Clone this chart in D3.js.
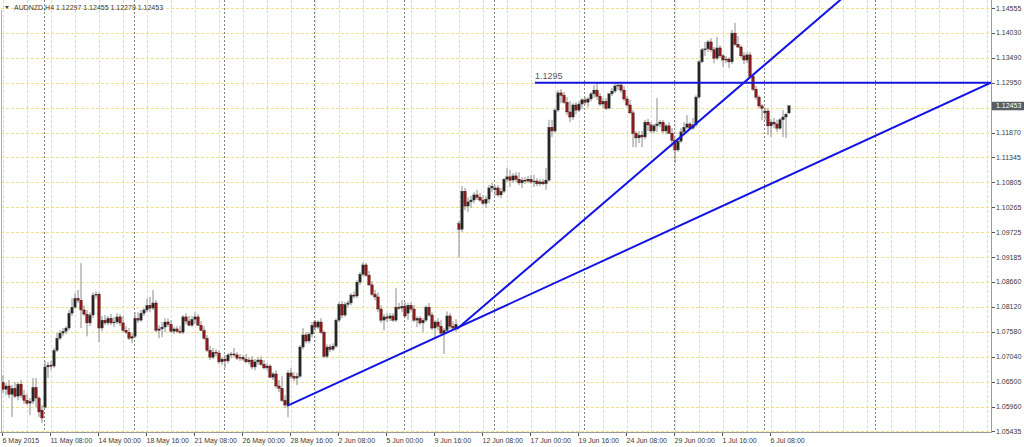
<!DOCTYPE html>
<html><head><meta charset="utf-8">
<script src="https://cdn.jsdelivr.net/npm/d3@7"></script>
<style>html,body{margin:0;padding:0;background:#fff;overflow:hidden}svg{display:block}</style>
</head><body><svg id="c" width="1024" height="447"></svg>
<script>
// ---------- DATA (AUDNZD H4, 6 May 16:00 .. 7 Jul 08:00, 2015) ----------
const symbolTitle = "AUDNZD,H4 1.12297 1.12455 1.12279 1.12453";
const opens = [
1.0649,1.0634,1.0641,1.0623,1.0636,1.0619,1.0645,1.0621,1.0610,1.0604,
1.0608,1.0638,1.0615,1.0589,1.0595,1.0682,1.0686,1.0684,1.0718,1.0744,
1.0755,1.0759,1.0766,1.0798,1.0811,1.0830,1.0826,1.0805,1.0796,1.0777,
1.0794,1.0837,1.0839,1.0766,1.0783,1.0777,1.0787,1.0777,1.0779,1.0790,
1.0777,1.0761,1.0757,1.0744,1.0748,1.0787,1.0783,1.0798,1.0805,1.0815,
1.0809,1.0820,1.0761,1.0764,1.0768,1.0779,1.0774,1.0759,1.0764,1.0759,
1.0757,1.0790,1.0781,1.0772,1.0785,1.0790,1.0772,1.0761,1.0744,1.0718,
1.0703,1.0714,1.0712,1.0693,1.0699,1.0695,1.0708,1.0710,1.0708,1.0701,
1.0703,1.0699,1.0693,1.0697,1.0682,1.0693,1.0697,1.0688,1.0680,1.0684,
1.0660,1.0667,1.0641,1.0636,1.0610,1.0600,1.0669,1.0662,1.0658,1.0662,
1.0725,1.0751,1.0738,1.0753,1.0779,1.0768,1.0779,1.0757,1.0705,1.0725,
1.0720,1.0727,1.0783,1.0817,1.0794,1.0817,1.0820,1.0837,1.0835,1.0865,
1.0882,1.0902,1.0880,1.0859,1.0839,1.0833,1.0807,1.0783,1.0790,1.0787,
1.0792,1.0783,1.0811,1.0809,1.0813,1.0798,1.0815,1.0807,1.0783,1.0787,
1.0777,1.0783,1.0811,1.0794,1.0766,1.0779,1.0770,1.0755,1.0761,1.0792,
1.0770,1.0766,1.0991,1.0979,1.1061,1.1029,1.1038,1.1042,1.1053,1.1048,
1.1042,1.1035,1.1044,1.1068,1.1064,1.1068,1.1053,1.1061,1.1087,1.1092,
1.1085,1.1094,1.1087,1.1079,1.1085,1.1083,1.1087,1.1081,1.1083,1.1077,
1.1081,1.1077,1.1085,1.1199,1.1191,1.1236,1.1273,1.1268,1.1253,1.1232,
1.1221,1.1247,1.1236,1.1249,1.1258,1.1253,1.1260,1.1271,1.1279,1.1266,
1.1249,1.1255,1.1240,1.1271,1.1277,1.1288,1.1290,1.1279,1.1260,1.1247,
1.1230,1.1186,1.1176,1.1182,1.1178,1.1210,1.1204,1.1191,1.1202,1.1206,
1.1210,1.1191,1.1202,1.1186,1.1171,1.1150,1.1169,1.1189,1.1199,1.1206,
1.1197,1.1204,1.1264,1.1340,1.1366,1.1368,1.1383,1.1366,1.1348,1.1370,
1.1353,1.1344,1.1346,1.1340,1.1402,1.1378,1.1372,1.1353,1.1344,1.1355,
1.1309,1.1281,1.1264,1.1245,1.1230,1.1234,1.1202,1.1210,1.1206,1.1197,
1.1215,1.1221,1.12297];
const highs = [
1.0664,1.0647,1.0654,1.0643,1.0649,1.0649,1.0654,1.0632,1.0625,1.0615,
1.0658,1.0658,1.0619,1.0600,1.0695,1.0693,1.0695,1.0723,1.0755,1.0761,
1.0766,1.0770,1.0805,1.0830,1.0841,1.0848,1.0906,1.0815,1.0805,1.0800,
1.0843,1.0845,1.0843,1.0792,1.0794,1.0792,1.0796,1.0790,1.0798,1.0796,
1.0792,1.0770,1.0766,1.0755,1.0800,1.0800,1.0805,1.0809,1.0830,1.0833,
1.0848,1.0826,1.0772,1.0779,1.0787,1.0787,1.0783,1.0768,1.0770,1.0770,
1.0794,1.0798,1.0792,1.0792,1.0800,1.0796,1.0781,1.0770,1.0751,1.0727,
1.0723,1.0720,1.0718,1.0703,1.0708,1.0712,1.0714,1.0723,1.0714,1.0710,
1.0708,1.0710,1.0703,1.0705,1.0699,1.0703,1.0705,1.0697,1.0690,1.0688,
1.0671,1.0675,1.0654,1.0662,1.0621,1.0675,1.0680,1.0671,1.0669,1.0729,
1.0766,1.0757,1.0757,1.0779,1.0783,1.0783,1.0787,1.0761,1.0731,1.0731,
1.0733,1.0787,1.0822,1.0824,1.0822,1.0826,1.0841,1.0845,1.0869,1.0887,
1.0908,1.0906,1.0889,1.0867,1.0848,1.0843,1.0815,1.0796,1.0798,1.0798,
1.0798,1.0852,1.0820,1.0826,1.0822,1.0820,1.0822,1.0815,1.0792,1.0792,
1.0787,1.0815,1.0820,1.0800,1.0783,1.0787,1.0783,1.0766,1.0802,1.0798,
1.0781,1.0785,1.0997,1.1072,1.1068,1.1048,1.1051,1.1059,1.1064,1.1057,
1.1053,1.1051,1.1074,1.1079,1.1074,1.1074,1.1068,1.1089,1.1111,1.1107,
1.1100,1.1102,1.1102,1.1092,1.1092,1.1094,1.1096,1.1096,1.1089,1.1087,
1.1087,1.1111,1.1215,1.1215,1.1240,1.1279,1.1281,1.1275,1.1264,1.1255,
1.1251,1.1253,1.1255,1.1262,1.1264,1.1264,1.1275,1.1290,1.1294,1.1273,
1.1262,1.1262,1.1273,1.1284,1.1294,1.1294,1.1294,1.1288,1.1266,1.1258,
1.1236,1.1191,1.1191,1.1191,1.1215,1.1217,1.1210,1.1206,1.1262,1.1215,
1.1215,1.1206,1.1210,1.1197,1.1176,1.1176,1.1197,1.1210,1.1225,1.1210,
1.1219,1.1268,1.1344,1.1370,1.1383,1.1387,1.1391,1.1372,1.1394,1.1376,
1.1357,1.1353,1.1350,1.1409,1.1424,1.1396,1.1376,1.1361,1.1361,1.1361,
1.1314,1.1288,1.1268,1.1249,1.1242,1.1240,1.1217,1.1219,1.1215,1.1219,
1.1236,1.1230,1.12455];
const lows = [
1.0625,1.0621,1.0615,1.0574,1.0615,1.0610,1.0615,1.0602,1.0600,1.0578,
1.0602,1.0595,1.0574,1.0561,1.0593,1.0658,1.0675,1.0680,1.0714,1.0740,
1.0748,1.0753,1.0761,1.0792,1.0807,1.0820,1.0766,1.0792,1.0748,1.0770,
1.0787,1.0830,1.0736,1.0759,1.0772,1.0772,1.0772,1.0768,1.0774,1.0770,
1.0757,1.0753,1.0740,1.0733,1.0744,1.0777,1.0779,1.0792,1.0800,1.0800,
1.0805,1.0757,1.0744,1.0746,1.0757,1.0768,1.0755,1.0753,1.0755,1.0753,
1.0753,1.0774,1.0770,1.0768,1.0774,1.0770,1.0759,1.0740,1.0714,1.0697,
1.0699,1.0705,1.0688,1.0686,1.0680,1.0690,1.0701,1.0703,1.0697,1.0695,
1.0695,1.0690,1.0688,1.0677,1.0675,1.0686,1.0684,1.0677,1.0675,1.0658,
1.0654,1.0636,1.0628,1.0606,1.0593,1.0574,1.0656,1.0651,1.0643,1.0658,
1.0720,1.0733,1.0733,1.0746,1.0761,1.0764,1.0753,1.0701,1.0701,1.0714,
1.0716,1.0723,1.0779,1.0787,1.0790,1.0811,1.0815,1.0830,1.0830,1.0859,
1.0878,1.0876,1.0856,1.0835,1.0826,1.0800,1.0777,1.0761,1.0779,1.0781,
1.0779,1.0779,1.0805,1.0800,1.0787,1.0783,1.0802,1.0779,1.0768,1.0772,
1.0757,1.0779,1.0790,1.0761,1.0744,1.0761,1.0753,1.0710,1.0755,1.0764,
1.0759,1.0757,1.0919,1.0973,1.1020,1.1016,1.1025,1.1035,1.1042,1.1038,
1.1031,1.1025,1.1035,1.1059,1.1051,1.1048,1.1046,1.1057,1.1081,1.1070,
1.1079,1.1081,1.1074,1.1068,1.1077,1.1079,1.1077,1.1070,1.1072,1.1072,
1.1074,1.1064,1.1081,1.1178,1.1186,1.1232,1.1251,1.1249,1.1225,1.1210,
1.1215,1.1227,1.1232,1.1240,1.1247,1.1242,1.1255,1.1262,1.1258,1.1245,
1.1240,1.1236,1.1238,1.1266,1.1273,1.1279,1.1273,1.1255,1.1242,1.1227,
1.1156,1.1156,1.1165,1.1156,1.1173,1.1191,1.1186,1.1186,1.1189,1.1199,
1.1186,1.1184,1.1184,1.1156,1.1122,1.1146,1.1165,1.1184,1.1195,1.1193,
1.1193,1.1199,1.1260,1.1337,1.1353,1.1361,1.1361,1.1337,1.1344,1.1348,
1.1329,1.1337,1.1327,1.1335,1.1374,1.1370,1.1348,1.1335,1.1337,1.1305,
1.1277,1.1258,1.1240,1.1215,1.1215,1.1182,1.1178,1.1197,1.1189,1.1193,
1.1178,1.1176,1.12279];
const closes = [
1.0634,1.0641,1.0623,1.0636,1.0619,1.0645,1.0621,1.0610,1.0604,1.0608,
1.0638,1.0615,1.0585,1.0572,1.0682,1.0686,1.0684,1.0718,1.0744,1.0755,
1.0759,1.0766,1.0798,1.0811,1.0830,1.0826,1.0805,1.0796,1.0777,1.0794,
1.0837,1.0839,1.0766,1.0783,1.0777,1.0787,1.0777,1.0779,1.0790,1.0777,
1.0761,1.0757,1.0744,1.0748,1.0787,1.0783,1.0798,1.0805,1.0815,1.0809,
1.0820,1.0761,1.0764,1.0768,1.0779,1.0774,1.0759,1.0764,1.0759,1.0757,
1.0790,1.0781,1.0772,1.0785,1.0790,1.0772,1.0761,1.0744,1.0718,1.0703,
1.0714,1.0712,1.0693,1.0699,1.0695,1.0708,1.0710,1.0708,1.0701,1.0703,
1.0699,1.0693,1.0697,1.0682,1.0693,1.0697,1.0688,1.0680,1.0684,1.0660,
1.0667,1.0641,1.0636,1.0610,1.0600,1.0669,1.0662,1.0658,1.0662,1.0725,
1.0751,1.0738,1.0753,1.0772,1.0768,1.0779,1.0757,1.0705,1.0725,1.0720,
1.0727,1.0783,1.0817,1.0794,1.0817,1.0820,1.0837,1.0835,1.0865,1.0882,
1.0902,1.0880,1.0859,1.0839,1.0833,1.0807,1.0783,1.0790,1.0787,1.0792,
1.0783,1.0811,1.0809,1.0813,1.0792,1.0815,1.0807,1.0783,1.0787,1.0777,
1.0783,1.0811,1.0794,1.0766,1.0779,1.0770,1.0755,1.0761,1.0792,1.0770,
1.0766,1.0774,1.0979,1.1061,1.1029,1.1038,1.1042,1.1053,1.1048,1.1042,
1.1035,1.1044,1.1068,1.1072,1.1068,1.1053,1.1061,1.1087,1.1092,1.1085,
1.1094,1.1087,1.1079,1.1085,1.1083,1.1087,1.1081,1.1083,1.1077,1.1081,
1.1077,1.1085,1.1199,1.1191,1.1236,1.1273,1.1268,1.1253,1.1232,1.1221,
1.1247,1.1236,1.1249,1.1258,1.1253,1.1260,1.1271,1.1279,1.1266,1.1249,
1.1255,1.1240,1.1271,1.1277,1.1288,1.1290,1.1279,1.1260,1.1247,1.1230,
1.1186,1.1176,1.1182,1.1178,1.1210,1.1204,1.1191,1.1202,1.1206,1.1210,
1.1191,1.1202,1.1186,1.1171,1.1150,1.1169,1.1189,1.1199,1.1206,1.1197,
1.1204,1.1264,1.1340,1.1366,1.1368,1.1383,1.1366,1.1348,1.1370,1.1353,
1.1344,1.1346,1.1340,1.1402,1.1378,1.1372,1.1353,1.1344,1.1355,1.1309,
1.1281,1.1264,1.1245,1.1240,1.1234,1.1202,1.1210,1.1206,1.1197,1.1215,
1.1221,1.1227,1.12453];

// x axis: bar index of each time label
const timeTickIndex  = [0,16,32,48,64,80,96,112,128,144,160,176,192,208,224,240,256];
const timeTickLabels = ["6 May 2015","11 May 08:00","14 May 00:00","18 May 16:00","21 May 08:00",
  "26 May 00:00","28 May 16:00","2 Jun 08:00","5 Jun 00:00","9 Jun 16:00","12 Jun 08:00",
  "17 Jun 00:00","19 Jun 16:00","24 Jun 08:00","29 Jun 00:00","1 Jul 16:00","6 Jul 08:00"];
// weekly period separators (bar index of Monday open)
const separatorIndex = [14,44,74,104,134,164,194,224,254,291];
// price scale labels
const priceTicks = [1.14555,1.14030,1.13490,1.12950,1.12410,1.11870,1.11345,1.10805,1.10265,
  1.09725,1.09185,1.08660,1.08120,1.07580,1.07040,1.06500,1.05960,1.05435];
const priceTickLabels = ["1.14555","1.14030","1.13490","1.12950","1.12410","1.11870","1.11345","1.10805","1.10265",
  "1.09725","1.09185","1.08660","1.08120","1.07580","1.07040","1.06500","1.05960","1.05435"];
const lastPrice = 1.12453, lastPriceLabel = "1.12453";
// drawn objects
const levelPrice = 1.1295, levelFromIndex = 177.3, levelLabel = "1.1295";
const trendShallow = [[94.7, 1.0598], [329.3, 1.1295]];
const trendSteep   = [[151.3, 1.0764], [279.0, 1.1473]];

// ---------- CHART ----------
const W = 1024, H = 447;
const P = {left: 1, right: 991, top: 0, bottom: 432};
const FONT = '"Liberation Sans", Arial, sans-serif';
const svg = d3.select('#c');

const x = d3.scaleLinear().domain([0, 328]).range([3, 987]);
const y = d3.scaleLinear().domain([1.05435, 1.14555]).range([431.2, 8.3]);
const nBars = closes.length;
const bars = d3.range(nBars).map(i => ({i, o: opens[i], h: highs[i], l: lows[i], c: closes[i]}));

svg.append('rect').attr('width', W).attr('height', H).attr('fill', '#fff');
svg.append('defs').append('clipPath').attr('id', 'clip')
  .append('rect').attr('x', P.left).attr('y', P.top).attr('width', P.right - P.left).attr('height', P.bottom - P.top);

const plot = svg.append('g').attr('clip-path', 'url(#clip)');

// grid
const gridColor = '#efe08a';
const vGrid = d3.range(0, 330, 8);
plot.append('g').selectAll('line').data(vGrid).join('line')
  .attr('x1', d => Math.round(x(d)) + 0.5).attr('x2', d => Math.round(x(d)) + 0.5)
  .attr('y1', P.top).attr('y2', P.bottom)
  .attr('stroke', gridColor).attr('stroke-width', 1).attr('stroke-dasharray', '3,2');
plot.append('g').selectAll('line').data(priceTicks).join('line')
  .attr('x1', P.left).attr('x2', P.right)
  .attr('y1', d => Math.round(y(d)) + 0.5).attr('y2', d => Math.round(y(d)) + 0.5)
  .attr('stroke', gridColor).attr('stroke-width', 1).attr('stroke-dasharray', '3,2');

// period separators
plot.append('g').selectAll('line').data(separatorIndex).join('line')
  .attr('x1', d => Math.round(x(d)) - 0.5).attr('x2', d => Math.round(x(d)) - 0.5)
  .attr('y1', P.top).attr('y2', P.bottom)
  .attr('stroke', '#808080').attr('stroke-width', 1).attr('stroke-dasharray', '2,2');

// candles
const cg = plot.append('g');
cg.selectAll('line').data(bars).join('line')
  .attr('x1', d => x(d.i)).attr('x2', d => x(d.i))
  .attr('y1', d => y(d.h)).attr('y2', d => y(d.l))
  .attr('stroke', '#8c8c8c').attr('stroke-width', 1);
cg.selectAll('rect').data(bars).join('rect')
  .attr('x', d => x(d.i) - 1.2).attr('width', 2.4)
  .attr('y', d => Math.min(y(d.o), y(d.c)))
  .attr('height', d => Math.max(1, Math.abs(y(d.o) - y(d.c))))
  .attr('fill', d => d.c >= d.o ? '#262626' : '#8e1b1b')
  .attr('stroke', d => d.c >= d.o ? '#555' : '#4a1010').attr('stroke-width', 0.4);

// horizontal level
const blue = '#1414e6';
plot.append('line')
  .attr('x1', x(levelFromIndex)).attr('x2', P.right)
  .attr('y1', y(levelPrice)).attr('y2', y(levelPrice))
  .attr('stroke', blue).attr('stroke-width', 2);
svg.append('text').attr('x', x(levelFromIndex)).attr('y', y(levelPrice) - 3.5)
  .attr('font-family', FONT).attr('font-size', 9).attr('fill', '#55596a').text(levelLabel);

// trend lines (rays to the edge)
function ray(pts) {
  const [a, b] = pts;
  const x1 = x(a[0]), y1 = y(a[1]), x2 = x(b[0]), y2 = y(b[1]);
  const k = (y2 - y1) / (x2 - x1);
  const xe = P.right + 40;
  return [[x1, y1], [xe, y1 + k * (xe - x1)]];
}
[trendShallow, trendSteep].forEach(t => {
  const r = ray(t);
  const xEnd = t === trendShallow ? x(t[1][0]) : r[1][0];
  const yEnd = t === trendShallow ? y(t[1][1]) : r[1][1];
  plot.append('line')
    .attr('x1', r[0][0]).attr('y1', r[0][1]).attr('x2', xEnd).attr('y2', yEnd)
    .attr('stroke', blue).attr('stroke-width', 2);
});

// frame
svg.append('line').attr('x1', P.right + 0.5).attr('x2', P.right + 0.5).attr('y1', 0).attr('y2', P.bottom + 0.5)
  .attr('stroke', '#9a9a9a');
svg.append('line').attr('x1', 0).attr('x2', P.right + 0.5).attr('y1', P.bottom + 0.5).attr('y2', P.bottom + 0.5)
  .attr('stroke', '#9a9a9a');
svg.append('line').attr('x1', P.left + 0.5).attr('x2', P.left + 0.5).attr('y1', 10).attr('y2', P.bottom + 0.5)
  .attr('stroke', '#b0b0b0');

// price axis
const pa = svg.append('g');
priceTicks.forEach((p, k) => {
  const yy = Math.round(y(p)) + 0.5;
  pa.append('line').attr('x1', P.right + 1).attr('x2', P.right + 4).attr('y1', yy).attr('y2', yy).attr('stroke', '#555');
  if (Math.abs(y(p) - y(lastPrice)) < 8) return;
  pa.append('text').attr('x', P.right + 5).attr('y', y(p) + 2.6)
    .attr('font-family', FONT).attr('font-size', 7).attr('fill', '#3a3a3a').text(priceTickLabels[k]);
});
// current price box
const ly = y(lastPrice);
pa.append('rect').attr('x', P.right + 1).attr('y', ly - 4).attr('width', W - P.right - 1).attr('height', 8.5)
  .attr('fill', '#565d63');
pa.append('text').attr('x', P.right + 5).attr('y', ly + 2.6)
  .attr('font-family', FONT).attr('font-size', 7).attr('fill', '#fff').text(lastPriceLabel);

// time axis
const ta = svg.append('g');
timeTickIndex.forEach((idx, k) => {
  const xx = Math.round(x(idx)) - 0.5;
  ta.append('line').attr('x1', xx).attr('x2', xx).attr('y1', P.bottom + 1).attr('y2', P.bottom + 4).attr('stroke', '#555');
  ta.append('text').attr('x', xx).attr('y', 443)
    .attr('font-family', FONT).attr('font-size', 7).attr('fill', '#3a3a3a').text(timeTickLabels[k]);
});

// header
svg.append('path').attr('d', 'M5,6 L9,6 L7,9 Z').attr('fill', '#444');
svg.append('text').attr('x', 14).attr('y', 9.5)
  .attr('font-family', FONT).attr('font-size', 7).attr('fill', '#3a3a3a').text(symbolTitle);
</script>
</body></html>
